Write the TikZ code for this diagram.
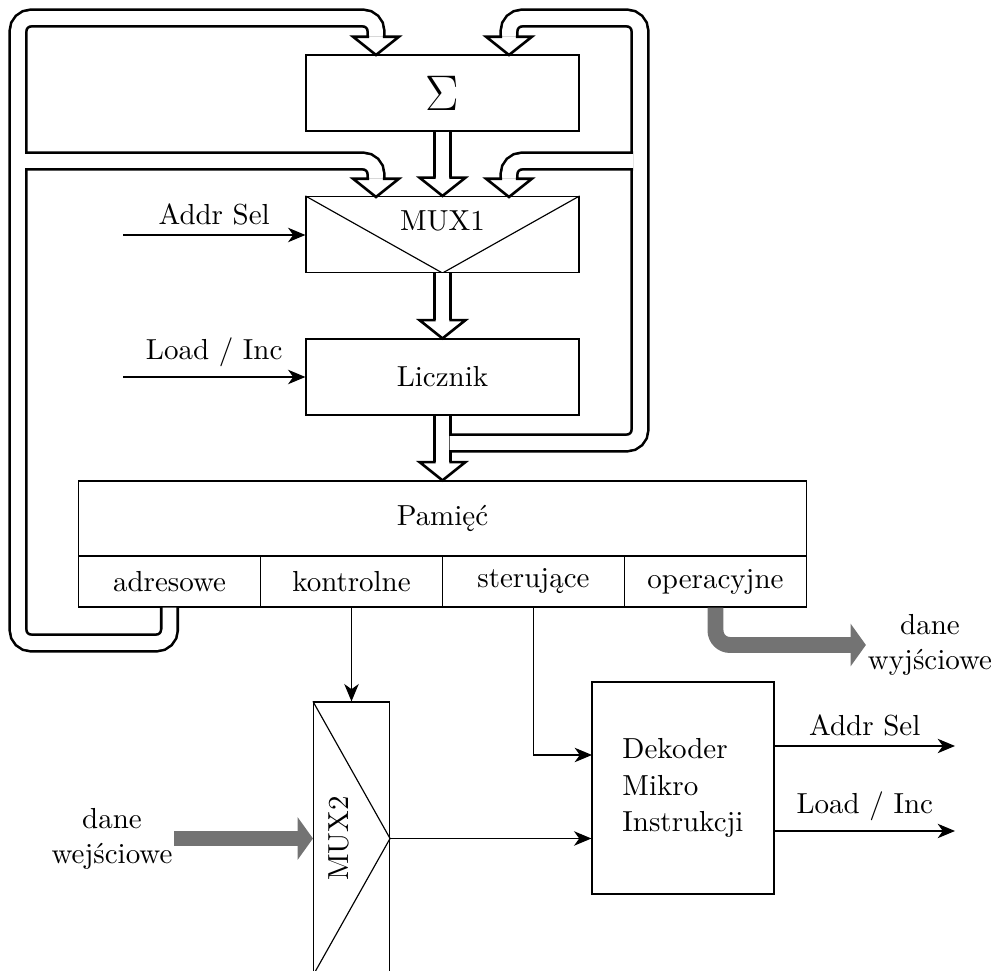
\documentclass[tikz,border=0pt]{standalone}
\usepackage{fontspec}
\usepackage{amsmath,amssymb}
\usetikzlibrary{arrows.meta,positioning}

\tikzset{
  blok/.style={draw,minimum width=94.2pt,minimum height=26.2pt,inner sep=0pt},
  pole/.style={draw,minimum width=62.8pt,minimum height=17.6pt,inner sep=0pt},
  sygnal/.style={-{Stealth[length=6pt,width=5pt,inset=1.8pt]}},
  szyna/.style={double=white,double distance=4.8pt,line width=0.9pt,rounded corners=4.5pt},
  dane/.style={line width=5.5pt,draw=black!55,-{Triangle[width=14.5pt,length=5.3pt]}},
  opis/.style={align=center,inner sep=0.5pt}
}
% grot szyny (w dol)
\newcommand{\grot}[1]{%
  \fill[white] (#1) -- ++(-7.9pt,6.3pt) -- ++(15.8pt,0pt) -- cycle;
  \draw[line width=0.9pt] ([shift={(-2.4pt,6.3pt)}]#1) -- ++(-5.5pt,0pt) -- (#1) -- ++(7.9pt,6.3pt) -- ++(-5.5pt,0pt);}

\begin{document}
\begin{tikzpicture}[x=0.345pt,y=-0.345pt]
\useasboundingbox (0,0) rectangle (996,971);

% bloki
\node (sum) at (442.5,93)[blok] {\LARGE $\Sigma$};
\node (mux1) at (442.5,234.5)[blok] {};
\node (lic) at (442.5,377)[blok] {Licznik};
\node (pam) at (442.5,518.5)[draw,minimum width=251.2pt,minimum height=25.9pt] {Pamięć};
\node (adr) at (169.5,581.5)[pole] {adresowe};
\node (kon) at (351.5,581.5)[pole] {kontrolne};
\node (ster) at (533.5,581.5)[pole] {sterujące};
\node (opr) at (715.5,581.5)[pole] {operacyjne};
\node (mux2) at (351.5,838.5)[draw,minimum width=26.2pt,minimum height=94.2pt] {};
\node (dek) at (683,788)[draw,minimum width=62.8pt,minimum height=73.1pt,align=left] {Dekoder\\[0.6pt]Mikro\\[0.6pt]Instrukcji};
\draw (mux1.north west) -- (mux1.south) -- (mux1.north east);
\draw (mux2.north west) -- (mux2.east) -- (mux2.south west);
\node (mux1t) at (442.5,221) {MUX1};
\node (mux2t) at (338.5,838.5)[rotate=90] {MUX2};
\node (win) at (112,839)[opis] {dane\\wejściowe};
\node (wout) at (930,645)[opis] {dane\\wyjściowe};

\coordinate (asin) at (123,235);
\coordinate (lin) at (123,377);
\coordinate (sterin) at (592,755);
\coordinate (asout) at (955,746);
\coordinate (lout) at (955,831);
\coordinate (sumL) at (376,55);
\coordinate (sumR) at (509,55);
\coordinate (muxL) at (376,197);
\coordinate (muxR) at (509,197);

% sygnaly
\draw[sygnal] (asin) -- (asin -| mux1.west) node[midway,above] {Addr Sel};
\draw[sygnal] (lin) -- (lic.west) node[midway,above] {Load / Inc};
\draw[sygnal] (kon.south) -- (mux2.north);
\draw[sygnal] (ster.south) |- (sterin);
\draw[sygnal] (mux2.east) -- (mux2.east -| dek.west);
\draw[sygnal] (asout -| dek.east) -- (asout) node[midway,above] {Addr Sel};
\draw[sygnal] (lout -| dek.east) -- (lout) node[midway,above] {Load / Inc};

% dane
\draw[dane] (mux2.west -| win.east) -- (mux2.west);
\draw[dane,rounded corners=5pt] (opr.south) |- (wout.west);

% szyny
\draw[szyna] (sum.south) -- ([yshift=6.3pt]mux1.north);
\draw[szyna] (mux1.south) -- ([yshift=6.3pt]lic.north);
\draw[szyna] (lic.south) -- ([yshift=6.3pt]pam.north);
\draw[szyna] (adr.south) |- (18,643) -- (18,18) -| ([yshift=6.3pt]sumL);
\draw[szyna] (25,161) -| ([yshift=6.3pt]muxL);
\draw[szyna] (449.5,443) -| (640,18) -| ([yshift=6.3pt]sumR);
\draw[szyna] (633,161) -| ([yshift=6.3pt]muxR);
\grot{sumL} \grot{sumR} \grot{muxL} \grot{muxR}
\grot{mux1.north} \grot{lic.north} \grot{pam.north}
\end{tikzpicture}
\end{document}
